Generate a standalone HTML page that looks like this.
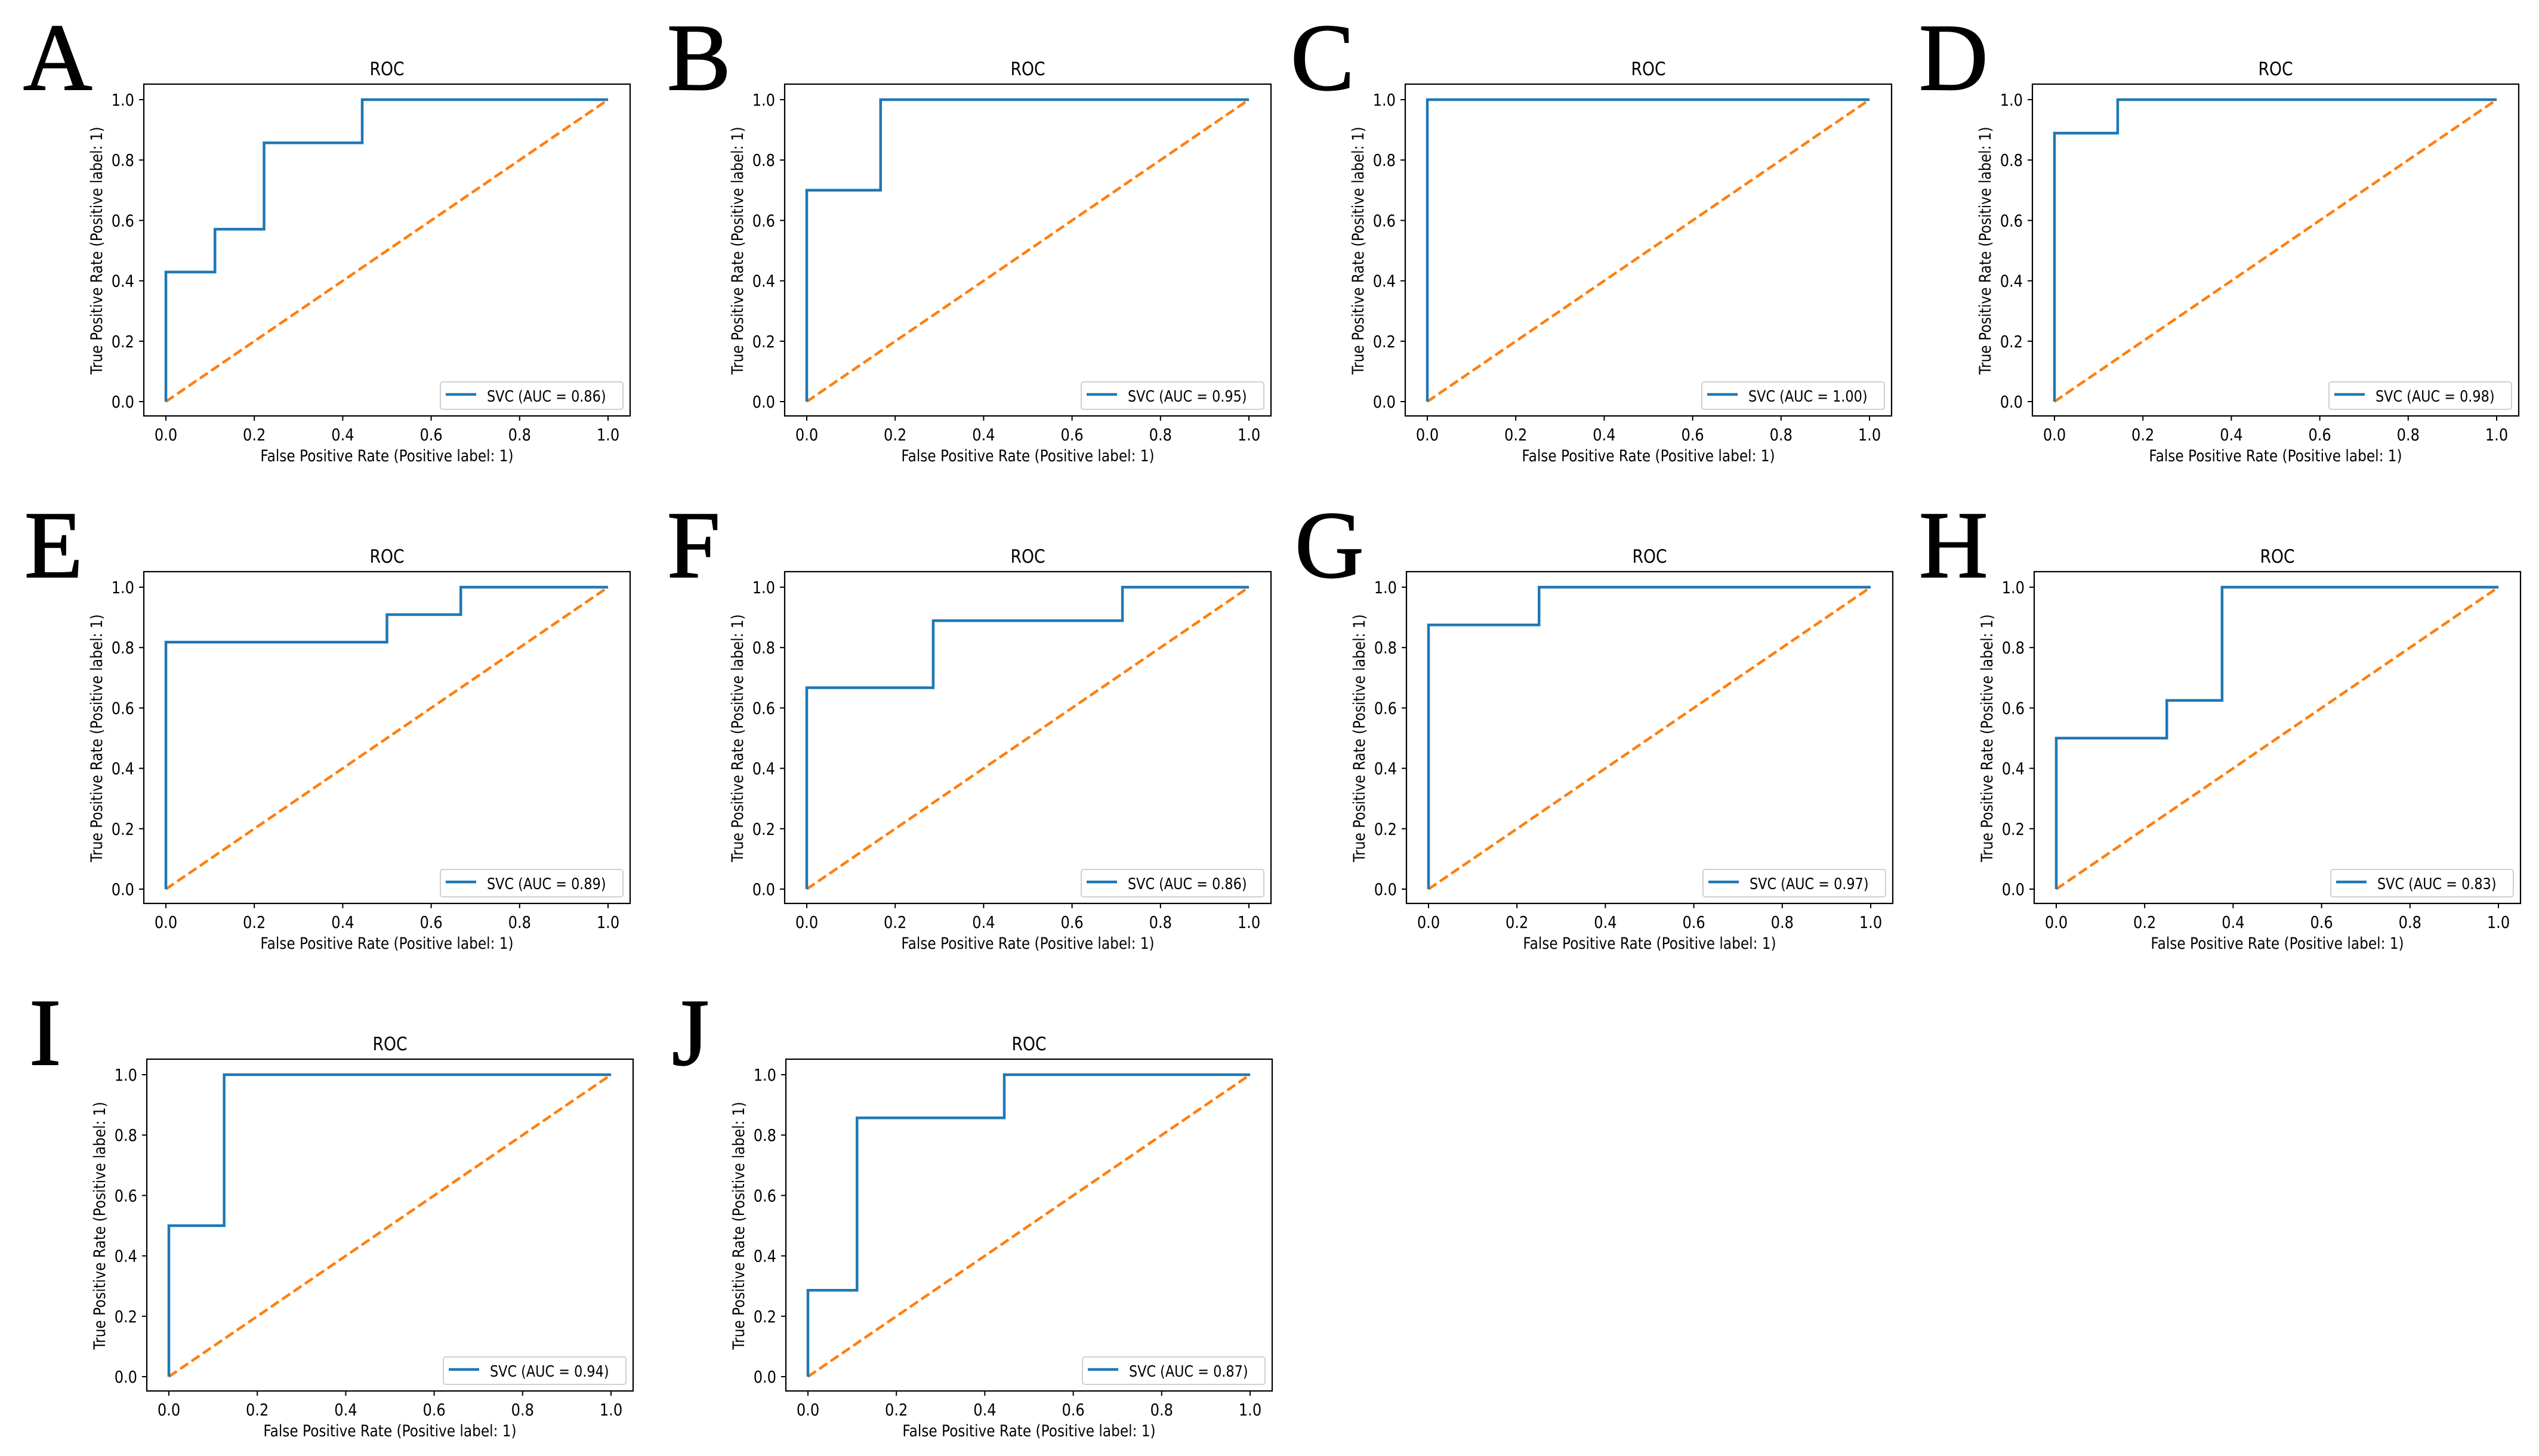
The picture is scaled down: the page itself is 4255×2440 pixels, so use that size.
<!DOCTYPE html>
<html><head><meta charset="utf-8"><style>
html,body{margin:0;padding:0;background:#fff;}
svg{display:block;}
text{font-family:"DejaVu Sans","Liberation Sans",sans-serif;fill:#000;}
.letter{font-family:"Liberation Serif",serif;font-size:160px;font-weight:normal;}
</style></head><body>
<svg id="fig" width="4255" height="2440" viewBox="0 0 4255 2440" xmlns="http://www.w3.org/2000/svg"></svg>
<script>
const panelLetters = ["A","B","C","D","E","F","G","H","I","J"];
const aucLabels = ["0.86","0.95","1.00","0.98","0.89","0.86","0.97","0.83","0.94","0.87"];
const fprA = [0,0,0.111,0.111,0.222,0.222,0.444,0.444,1]; const tprA = [0,0.429,0.429,0.571,0.571,0.857,0.857,1,1];
const fprB = [0,0,0.167,0.167,1]; const tprB = [0,0.7,0.7,1,1];
const fprC = [0,0,1]; const tprC = [0,1,1];
const fprD = [0,0,0.143,0.143,1]; const tprD = [0,0.889,0.889,1,1];
const fprE = [0,0,0.5,0.5,0.667,0.667,1]; const tprE = [0,0.818,0.818,0.909,0.909,1,1];
const fprF = [0,0,0.286,0.286,0.714,0.714,1]; const tprF = [0,0.667,0.667,0.889,0.889,1,1];
const fprG = [0,0,0.25,0.25,1]; const tprG = [0,0.875,0.875,1,1];
const fprH = [0,0,0.25,0.25,0.375,0.375,1]; const tprH = [0,0.5,0.5,0.625,0.625,1,1];
const fprI = [0,0,0.125,0.125,1]; const tprI = [0,0.5,0.5,1,1];
const fprJ = [0,0,0.111,0.111,0.444,0.444,1]; const tprJ = [0,0.286,0.286,0.857,0.857,1,1];
const tickValues = [0,0.2,0.4,0.6,0.8,1.0];
const tickLabels = ["0.0","0.2","0.4","0.6","0.8","1.0"];

const FPR=[fprA,fprB,fprC,fprD,fprE,fprF,fprG,fprH,fprI,fprJ];
const TPR=[tprA,tprB,tprC,tprD,tprE,tprF,tprG,tprH,tprI,tprJ];
const X0=[278,1352,2392,3443,278,1352,2394,3446,283,1354];
const LX=[39,1118,2163,3216,41,1118,2170,3216,49,1126];
const ROW=[0,0,0,0,1,1,1,1,2,2];
const NS="http://www.w3.org/2000/svg";
const svg=document.getElementById('fig');
function mk(tag,attrs,parent){const e=document.createElementNS(NS,tag);for(const k in attrs)e.setAttribute(k,attrs[k]);parent.appendChild(e);return e;}
const SX=0.86;
function txt(parent,x,y,s,size,anchor,rot){
  const t=mk('text',{transform:`translate(${x},${y})${rot?' rotate(-90)':''} scale(${SX},1)`,'font-size':size,'text-anchor':anchor},parent);
  t.textContent=s;return t;
}
for(let p=0;p<10;p++){
  const g=mk('g',{},svg);
  
  
  const x0=X0[p], x1=x0+741, yoff=ROW[p]*817, y1=167+yoff, y0=673+yoff;
  const xs=v=>x0+v*(x1-x0), ys=v=>y0-v*(y0-y1);
  const L=txt(g,LX[p],150+yoff,panelLetters[p],160,'start',false);
  L.setAttribute('class','letter');L.setAttribute('transform',`translate(${LX[p]},${150+yoff})`);
  L.setAttribute('stroke','#000');L.setAttribute('stroke-width','2');
  
  
  const bl=x0-37,br=x1+37,bt=y1-26,bb=y0+24;
  const ti=txt(g,(bl+br)/2,y1-41,'ROC',31,'middle',false);
  
  
  const d=mk('line',{x1:xs(0),y1:ys(0),x2:xs(1),y2:ys(1),stroke:'#ff7f0e','stroke-width':4.5,'stroke-dasharray':'16,7'},g);
  
  
  const pts=FPR[p].map((f,i)=>xs(f)+','+ys(TPR[p][i])).join(' ');
  const c=mk('polyline',{points:pts,fill:'none',stroke:'#1f77b4','stroke-width':4.5},g);
  
  
  const box=mk('rect',{x:bl,y:bt,width:br-bl,height:bb-bt,fill:'none',stroke:'#000','stroke-width':2.2},g);
  
  
  tickValues.forEach((v,i)=>{
    mk('line',{x1:xs(v),y1:bb,x2:xs(v),y2:bb+8,stroke:'#000','stroke-width':2},g);
    const tx=txt(g,xs(v),y0+65,tickLabels[i],28,'middle',false);
    
    
    mk('line',{x1:bl,y1:ys(v),x2:bl-8,y2:ys(v),stroke:'#000','stroke-width':2},g);
    const ty=txt(g,bl-16,ys(v)+10,tickLabels[i],28,'end',false);
    
    
  });
  const xl=txt(g,(bl+br)/2,y0+100,'False Positive Rate (Positive label: 1)',27,'middle',false);
  
  
  const yl=txt(g,x0-107,(y0+y1)/2,'True Positive Rate (Positive label: 1)',27,'middle',true);
  
  
  const lg=mk('g',{},g);
  
  
  mk('rect',{x:br-318,y:bb-57,width:306,height:46,rx:4,fill:'#fff',stroke:'#d0d0d0','stroke-width':2},lg);
  mk('line',{x1:br-309,y1:bb-36,x2:br-258,y2:bb-36,stroke:'#1f77b4','stroke-width':4.5},lg);
  const lt=txt(lg,br-240,bb-24,'SVC (AUC = '+aucLabels[p]+')',26,'start',false);
  
  
}
</script>
</body></html>
